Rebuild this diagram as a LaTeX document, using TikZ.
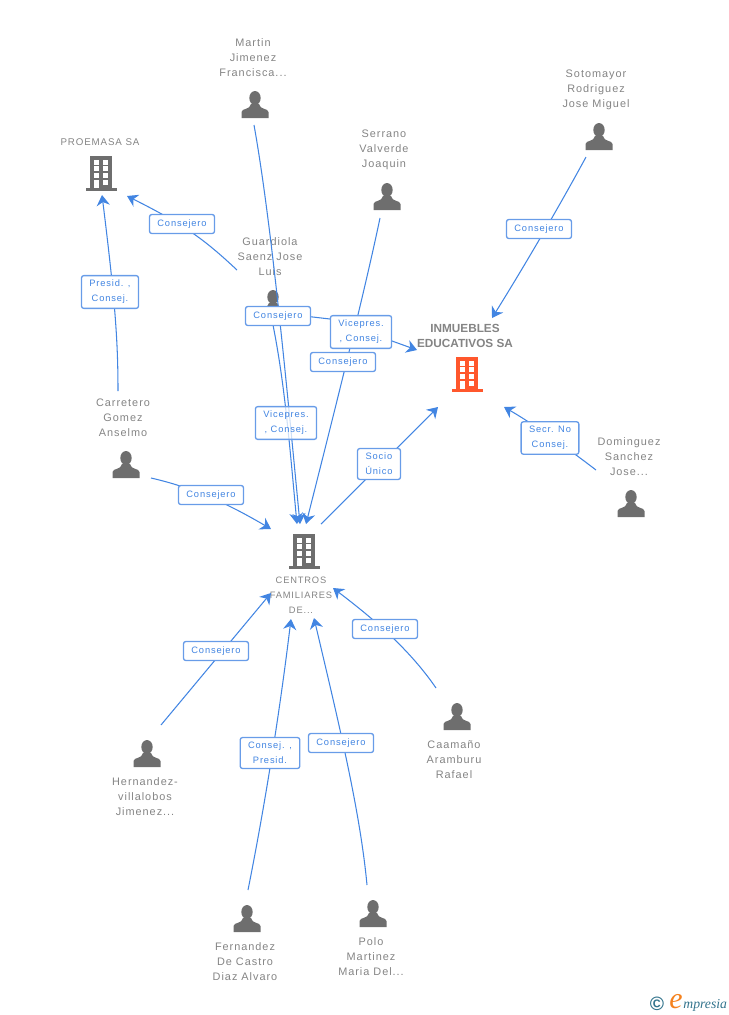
\documentclass[tikz,border=0pt]{standalone}
\usepackage{fontspec}
\setmainfont[LetterSpace=9]{Liberation Sans}
\newfontfamily\boldname[LetterSpace=0]{Liberation Sans}
\newfontfamily\logofont{Liberation Serif}
\usetikzlibrary{arrows.meta, positioning}
\definecolor{linkBlue}{RGB}{66, 133, 226}
\definecolor{boxEdge}{RGB}{104, 156, 232}
\definecolor{iconGrey}{RGB}{110, 110, 110}
\definecolor{textGrey}{RGB}{132, 132, 132}
\definecolor{mainOrange}{RGB}{255, 87, 44}
\definecolor{logoTeal}{RGB}{50, 115, 140}
\definecolor{logoOrange}{RGB}{245, 130, 30}
\tikzset{
    link/.style={draw=linkBlue, line width=0.6pt, -{Stealth[length=6pt, width=7.5pt]}},
    tagbox/.style={draw=boxEdge, line width=0.75pt, fill=white, rounded corners=1.3pt, text=linkBlue, align=center,
        font={\fontsize{5.3}{8.5}\selectfont}, inner xsep=4.5pt, inner ysep=2.6pt, minimum height=10.8pt},
    nametext/.style={text=textGrey, align=center, inner sep=0pt, font={\fontsize{6.2}{8.5}\selectfont}},
    iconspot/.style={inner sep=0pt, minimum width=16pt, minimum height=16pt},
    pics/personicon/.style={code={
        \fill[iconGrey] (0,-7) ellipse (5.7 and 7);
        \fill[iconGrey] (-13.5,13) -- (-13.5,7) .. controls (-13,3) and (-5,5) .. (-4,-1) -- (4,-1)
            .. controls (5,5) and (13,3) .. (13.5,7) -- (13.5,13) -- cycle;
    }},
    pics/buildingicon/.style={code={
        \fill[#1] (-11,-17) rectangle (11,15);
        \fill[#1] (-15,15) rectangle (16,17.5);
        \foreach \wy in {-13,-7,0} {
            \fill[white] (-7,\wy) rectangle (-2,\wy+5);
            \fill[white] (2,\wy) rectangle (7,\wy+5);
        }
        \fill[white] (-7,7) rectangle (-2,15);
        \fill[white] (2,7) rectangle (7,11.5);
    }}
}

\begin{document}
\begin{tikzpicture}[x=0.02cm, y=-0.02cm]
    \useasboundingbox (0,0) rectangle (728,1015);

    % Companies
    \node[iconspot] (cf) at (304,551) {};
    \node[iconspot] (inmuebles) at (467,374) {};
    \node[iconspot] (proemasa) at (101,173) {};
    \pic at (cf) {buildingicon=iconGrey};
    \pic at (inmuebles) {buildingicon=mainOrange};
    \pic at (proemasa) {buildingicon=iconGrey};

    % People
    \foreach \who/\px/\py in {martin/255/105, serrano/387/197, sotomayor/599/137, guardiola/273/304,
        carretero/126/465, dominguez/631/504, caamano/457/717, hernandez/147/754, fernandez/247/919, polo/373/914} {
        \node[iconspot] (\who) at (\px,\py) {};
        \pic at (\who) {personicon};
    }

    % Names
    \node[nametext] (martinName) at (253,57.5) {Martin\\Jimenez\\Francisca...};
    \node[nametext] (serranoName) at (384,149.5) {Serrano\\Valverde\\Joaquin};
    \node[nametext] (sotomayorName) at (596,89.5) {Sotomayor\\Rodriguez\\Jose Miguel};
    \node[nametext] (guardiolaName) at (270,256.5) {Guardiola\\Saenz Jose\\Luis};
    \node[nametext] (carreteroName) at (123,417.5) {Carretero\\Gomez\\Anselmo};
    \node[nametext] (dominguezName) at (629,456.5) {Dominguez\\Sanchez\\Jose...};
    \node[nametext] (caamanoName) at (454,759.5) {Caamaño\\Aramburu\\Rafael};
    \node[nametext] (hernandezName) at (145,796.5) {Hernandez-\\villalobos\\Jimenez...};
    \node[nametext] (fernandezName) at (245,961.5) {Fernandez\\De Castro\\Diaz Alvaro};
    \node[nametext] (poloName) at (371,956.5) {Polo\\Martinez\\Maria Del...};
    \node[nametext, font={\fontsize{5.3}{8.5}\selectfont}] (cfName) at (301,595.5) {CENTROS\\FAMILIARES\\DE...};
    \node[nametext, font={\fontsize{5.55}{8.5}\selectfont}] (proemasaName) at (100,142.5) {PROEMASA SA};
    \node[nametext, font={\boldname\bfseries\fontsize{6.7}{8.5}\selectfont}] (inmueblesName) at (465,335.5) {INMUEBLES\\EDUCATIVOS SA};

    % Free ends of the connectors
    \coordinate (martinEnd) at (254,125);
    \coordinate (serranoEnd) at (380,218);
    \coordinate (sotomayorEnd) at (586,157);
    \coordinate (guardiolaEndA) at (237,270);
    \coordinate (guardiolaEndB) at (273,325);
    \coordinate (guardiolaEndC) at (304,316);
    \coordinate (carreteroEndA) at (118,391);
    \coordinate (carreteroEndB) at (151,478);
    \coordinate (dominguezEnd) at (596,470);
    \coordinate (caamanoEnd) at (436,688);
    \coordinate (hernandezEnd) at (161,725);
    \coordinate (fernandezEnd) at (248,890);
    \coordinate (poloEnd) at (367,885);
    \coordinate (cfEnd) at (321,524);
    \coordinate (cfTipA) at (300,524);
    \coordinate (cfTipB) at (297,524);
    \coordinate (cfTipC) at (306,524);
    \coordinate (cfTipD) at (271,529);
    \coordinate (cfTipE) at (271,593);
    \coordinate (cfTipF) at (291,619);
    \coordinate (cfTipG) at (314,618);
    \coordinate (cfTipH) at (333,588);
    \coordinate (inmTipA) at (492,318);
    \coordinate (inmTipB) at (417,350);
    \coordinate (inmTipC) at (438,407);
    \coordinate (inmTipD) at (504,407);
    \coordinate (proTipA) at (102,195);
    \coordinate (proTipB) at (127,196);

    % Connectors
    \draw[link] (martinEnd) .. controls (272,225) and (288,400) .. (cfTipA);
    \draw[link] (guardiolaEndB) .. controls (285,385) and (290,450) .. (cfTipB);
    \draw[link] (serranoEnd) .. controls (367,280) and (345,370) .. (cfTipC);
    \draw[link] (sotomayorEnd) .. controls (560,205) and (525,265) .. (inmTipA);
    \draw[link] (guardiolaEndA) .. controls (205,240) and (185,225) .. (proTipB);
    \draw[link] (guardiolaEndC) -- (330,319) -- (392,341) -- (inmTipB);
    \draw[link] (carreteroEndA) .. controls (118,340) and (115,300) .. (proTipA);
    \draw[link] (carreteroEndB) .. controls (195,488) and (230,505) .. (cfTipD);
    \draw[link] (dominguezEnd) .. controls (570,450) and (535,425) .. (inmTipD);
    \draw[link] (cfEnd) -- (inmTipC);
    \draw[link] (caamanoEnd) .. controls (410,650) and (375,620) .. (cfTipH);
    \draw[link] (hernandezEnd) -- (cfTipE);
    \draw[link] (fernandezEnd) .. controls (265,805) and (280,710) .. (cfTipF);
    \draw[link] (poloEnd) .. controls (360,810) and (338,720) .. (cfTipG);

    % Labels on the connectors
    \node[tagbox] (tagFernandez) at (270,753) {Consej. ,\\Presid.};
    \node[tagbox] (tagPolo) at (341,743) {Consejero};
    \node[tagbox] (tagHernandez) at (216,651) {Consejero};
    \node[tagbox] (tagCaamano) at (385,629) {Consejero};
    \node[tagbox] (tagCarretero) at (211,495) {Consejero};
    \node[tagbox] (tagSocio) at (379,464) {Socio\\Único};
    \node[tagbox] (tagDominguez) at (550,438) {Secr. No\\Consej.};
    \node[tagbox, fill opacity=0.75, text opacity=1] (tagVicepresB) at (286,423) {Vicepres.\\, Consej.};
    \node[tagbox] (tagSerrano) at (343,362) {Consejero};
    \node[tagbox] (tagVicepresA) at (361,332) {Vicepres.\\, Consej.};
    \node[tagbox] (tagGuardiola) at (278,316) {Consejero};
    \node[tagbox] (tagSotomayor) at (539,229) {Consejero};
    \node[tagbox] (tagProemasa) at (182,224) {Consejero};
    \node[tagbox] (tagCarreteroPro) at (110,292) {Presid. ,\\Consej.};

    % Logo
    \node[inner sep=0pt, text=logoTeal, font={\bfseries\fontsize{11}{11}\selectfont}] (logoMark) at (657,1004) {©};
    \node[inner sep=0pt, text=logoOrange, font={\logofont\itshape\fontsize{17}{17}\selectfont}] (logoE) at (676,1002) {e};
    \node[inner sep=0pt, text=logoTeal, anchor=west, font={\logofont\itshape\fontsize{7.8}{10}\selectfont}] (logoText) at (683,1005) {mpresia};
\end{tikzpicture}
\end{document}
